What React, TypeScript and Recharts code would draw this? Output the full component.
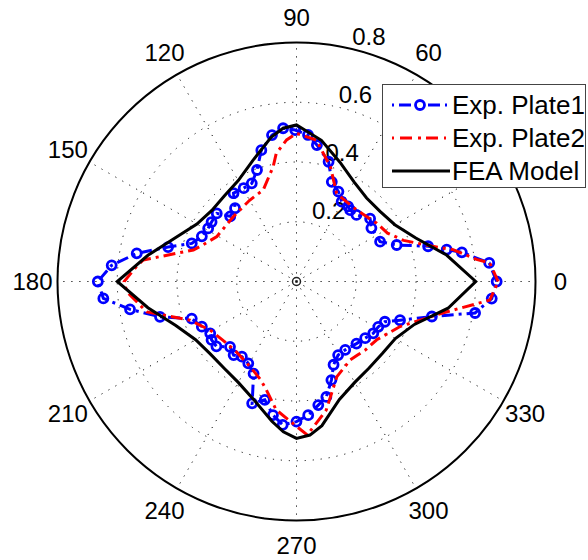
import React from "react";
import { RadarChart, Radar, PolarGrid, PolarAngleAxis, PolarRadiusAxis, Legend } from "recharts";

const W = 588;
const H = 560;
const CX = 296.5;
const CY = 281.5;
const R = 239;
const FONT = "'Liberation Sans', Arial, sans-serif";

const angleTicks = [0, 30, 60, 90, 120, 150, 180, 210, 240, 270, 300, 330];
const radiusTicks = [0, 0.2, 0.4, 0.6, 0.8];
const seriesNames = ["Exp. Plate1", "Exp. Plate2", "FEA Model"];
// the 30 label sits under the legend box in the original
const hiddenAngleLabels = [30];

// Exp. Plate1 (blue, circles)
const plate1Angles = [0, 5.5, 10, 12, 15, 20, 25.5, 35.5, 40.5, 48, 53, 55.5, 60.5, 65, 70.5, 75, 81.5, 85.5, 90.5, 95, 99.5, 105, 109.5, 114.5, 119.5, 125.5, 130, 135.5, 139.5, 145, 149, 154.5, 160, 165, 170, 175, 180, 185, 189.5, 194.5, 199.5, 205.5, 211, 214.5, 219, 224.5, 229.5, 234, 239.5, 245, 250, 255, 260, 264.5, 270, 275, 280, 284.5, 289.5, 294, 299.5, 305.5, 314, 320.5, 326, 331, 335.5, 339.5, 345.5, 350, 355];
const plate1R = [0.67, 0.648, 0.562, 0.514, 0.456, 0.357, 0.31, 0.308, 0.324, 0.3, 0.299, 0.305, 0.307, 0.332, 0.354, 0.415, 0.462, 0.492, 0.507, 0.515, 0.497, 0.455, 0.396, 0.361, 0.359, 0.363, 0.32, 0.311, 0.351, 0.347, 0.345, 0.351, 0.373, 0.445, 0.543, 0.621, 0.665, 0.649, 0.565, 0.472, 0.372, 0.351, 0.337, 0.345, 0.345, 0.312, 0.324, 0.311, 0.318, 0.34, 0.434, 0.41, 0.454, 0.482, 0.469, 0.449, 0.42, 0.399, 0.35, 0.305, 0.283, 0.281, 0.289, 0.298, 0.31, 0.313, 0.325, 0.37, 0.468, 0.607, 0.656];

// Exp. Plate2 (red, dash-dot)
const plate2Angles = [0, 5.5, 7, 11.5, 14.5, 21, 28, 36, 50, 58, 65.5, 73.5, 82, 90, 94, 99, 101.5, 110, 120, 134.5, 150.5, 160, 163, 172, 174.5, 180, 183.5, 191.5, 200, 210, 221.5, 230, 241.5, 250, 254.5, 261, 268.5, 274, 283, 293, 304.5, 310, 315, 324, 336.5, 348, 353, 354.5];
const plate2R = [0.675, 0.65, 0.607, 0.535, 0.47, 0.384, 0.345, 0.332, 0.313, 0.315, 0.324, 0.4, 0.478, 0.496, 0.475, 0.434, 0.392, 0.326, 0.314, 0.303, 0.306, 0.343, 0.361, 0.518, 0.537, 0.577, 0.569, 0.511, 0.379, 0.33, 0.312, 0.31, 0.325, 0.35, 0.377, 0.435, 0.475, 0.515, 0.442, 0.346, 0.318, 0.32, 0.325, 0.332, 0.378, 0.503, 0.608, 0.65];

// FEA Model (black, solid)
const feaAngles = [0, 10, 20, 30, 40, 50, 60, 70, 80, 90, 95, 100, 110, 120, 130, 140, 150, 160, 170, 180, 190, 200, 210, 220, 230, 240, 250, 260, 265, 270, 275, 280, 290, 300, 310, 320, 330, 340, 350];
const feaR = [0.6, 0.51, 0.425, 0.38, 0.365, 0.365, 0.385, 0.425, 0.48, 0.524, 0.515, 0.49, 0.43, 0.39, 0.375, 0.37, 0.385, 0.43, 0.505, 0.6, 0.505, 0.43, 0.39, 0.377, 0.378, 0.39, 0.42, 0.475, 0.505, 0.525, 0.516, 0.49, 0.42, 0.39, 0.378, 0.375, 0.382, 0.42, 0.515];

const plate1 = plate1Angles.map((a, i) => ({ angle: a, r: plate1R[i] }));
const plate2 = plate2Angles.map((a, i) => ({ angle: a, r: plate2R[i] }));
const fea = feaAngles.map((a, i) => ({ angle: a, r: feaR[i] }));

function AngleTick(props: any) {
  const { x, y, payload } = props;
  if (hiddenAngleLabels.includes(payload.value)) return <g />;
  return (
    <text x={x} y={y} textAnchor="middle" dominantBaseline="central" fontSize={24} fontFamily={FONT} fill="#000">
      {payload.value}
    </text>
  );
}

function RadiusTick(props: any) {
  const { x, y, payload } = props;
  if (payload.value === 0) {
    return <circle cx={x} cy={y} r={4} fill="none" stroke="#222" strokeWidth={1.5} />;
  }
  return (
    <text x={x + 2} y={y - 4} textAnchor="start" fontSize={24} fontFamily={FONT} fill="#000">
      {payload.value}
    </text>
  );
}

function BlueDot(props: any) {
  const { cx, cy, index } = props;
  return <circle key={index} cx={cx} cy={cy} r={4.5} fill="none" stroke="#0000ff" strokeWidth={2.8} />;
}

function LegendBox() {
  const rows = [21, 54, 87];
  return (
    <svg width={204} height={104} style={{ display: "block" }}>
      <rect x={0.5} y={0.5} width={203} height={103} fill="#fff" stroke="#444" />
      <line x1={10} y1={rows[0]} x2={66} y2={rows[0]} stroke="#0000ff" strokeWidth={3} strokeDasharray="2 5 12 17 12 5 2" />
      <circle cx={38} cy={rows[0]} r={4.5} fill="none" stroke="#0000ff" strokeWidth={2.8} />
      <line x1={10} y1={rows[1]} x2={66} y2={rows[1]} stroke="#ff0000" strokeWidth={3} strokeDasharray="2 6 12 6 3 5 12 6 2" />
      <line x1={10} y1={rows[2]} x2={68} y2={rows[2]} stroke="#000" strokeWidth={3} />
      {seriesNames.map((n, i) => (
        <text key={n} x={70} y={rows[i]} dominantBaseline="central" fontSize={26} fontFamily={FONT} fill="#000">
          {n}
        </text>
      ))}
    </svg>
  );
}

const layer: React.CSSProperties = { position: "absolute", left: 0, top: 0 };
const margin = { top: 0, right: 0, bottom: 0, left: 0 };

export default function App() {
  return (
    <div style={{ position: "relative", width: W, height: H, background: "#fff" }}>
      <style>{`body{margin:0}`}</style>
      {/* grid, frame and labels */}
      <div style={layer}>
        <RadarChart width={W} height={H} data={fea} cx={CX} cy={CY} outerRadius={R} startAngle={0} endAngle={360} margin={margin}>
          <PolarGrid gridType="circle" stroke="#111" strokeDasharray="1.2 6.8" />
          <PolarAngleAxis type="number" dataKey="angle" domain={[0, 360]} allowDataOverflow ticks={angleTicks} tickSize={25} tickLine={false}
            axisLineType="circle" axisLine={{ stroke: "#000", strokeWidth: 2 }} tick={<AngleTick />} />
          <PolarRadiusAxis type="number" dataKey="r" domain={[0, 0.8]} allowDataOverflow allowDecimals tickCount={5} ticks={radiusTicks} angle={77}
            axisLine={false} tickLine={false} tick={<RadiusTick />} />
          <Radar dataKey="r" stroke="none" fill="none" fillOpacity={0} legendType="none" isAnimationActive={false} />
        </RadarChart>
      </div>
      <div style={layer}>
        <RadarChart width={W} height={H} data={plate1} cx={CX} cy={CY} outerRadius={R} startAngle={0} endAngle={360} margin={margin}>
          <PolarAngleAxis type="number" dataKey="angle" domain={[0, 360]} allowDataOverflow ticks={angleTicks} tick={false} tickLine={false} axisLine={false} />
          <PolarRadiusAxis type="number" dataKey="r" domain={[0, 0.8]} allowDataOverflow allowDecimals tickCount={5} ticks={radiusTicks} tick={false} axisLine={false} />
          <Radar name={seriesNames[0]} dataKey="r" stroke="#0000ff" strokeWidth={3} strokeDasharray="12 5 3 5" fill="none" fillOpacity={0}
            dot={BlueDot} isAnimationActive={false} />
        </RadarChart>
      </div>
      <div style={layer}>
        <RadarChart width={W} height={H} data={plate2} cx={CX} cy={CY} outerRadius={R} startAngle={0} endAngle={360} margin={margin}>
          <PolarAngleAxis type="number" dataKey="angle" domain={[0, 360]} allowDataOverflow ticks={angleTicks} tick={false} tickLine={false} axisLine={false} />
          <PolarRadiusAxis type="number" dataKey="r" domain={[0, 0.8]} allowDataOverflow allowDecimals tickCount={5} ticks={radiusTicks} tick={false} axisLine={false} />
          <Radar name={seriesNames[1]} dataKey="r" stroke="#ff0000" strokeWidth={3} strokeDasharray="12 5 3 5" fill="none" fillOpacity={0}
            dot={false} isAnimationActive={false} />
        </RadarChart>
      </div>
      <div style={layer}>
        <RadarChart width={W} height={H} data={fea} cx={CX} cy={CY} outerRadius={R} startAngle={0} endAngle={360} margin={margin}>
          <PolarAngleAxis type="number" dataKey="angle" domain={[0, 360]} allowDataOverflow ticks={angleTicks} tick={false} tickLine={false} axisLine={false} />
          <PolarRadiusAxis type="number" dataKey="r" domain={[0, 0.8]} allowDataOverflow allowDecimals tickCount={5} ticks={radiusTicks} tick={false} axisLine={false} />
          <Radar name={seriesNames[2]} dataKey="r" stroke="#000" strokeWidth={3} fill="none" fillOpacity={0} dot={false} isAnimationActive={false} />
          <Legend layout="vertical" align="right" verticalAlign="top" content={<LegendBox />}
            wrapperStyle={{ position: "absolute", left: 382, top: 84, width: 204, height: 104 }} />
        </RadarChart>
      </div>
    </div>
  );
}
